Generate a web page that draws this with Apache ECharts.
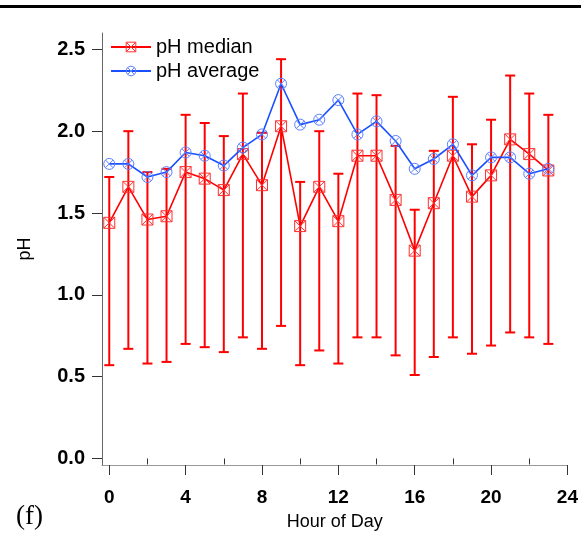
<!DOCTYPE html>
<html>
<head>
<meta charset="utf-8">
<script src="https://cdn.jsdelivr.net/npm/echarts@6/dist/echarts.min.js"></script>
<style>
    html, body { margin: 0; padding: 0; background: #fff; }
    #chart { width: 581px; height: 539px; }
</style>
</head>
<body>
<div id="chart"></div>
<script>
// 数据
const hours = [0, 1, 2, 3, 4, 5, 6, 7, 8, 9, 10, 11, 12, 13, 14, 15, 16, 17, 18, 19, 20, 21, 22, 23];
const phMedian = [1.44, 1.66, 1.46, 1.48, 1.75, 1.71, 1.64, 1.86, 1.67, 2.03, 1.42, 1.66,
    1.45, 1.85, 1.85, 1.58, 1.27, 1.56, 1.85, 1.60, 1.73, 1.95, 1.86, 1.76];
const phAverage = [1.80, 1.80, 1.72, 1.75, 1.87, 1.85, 1.79, 1.90, 1.98, 2.29, 2.04, 2.07,
    2.19, 1.98, 2.06, 1.94, 1.77, 1.83, 1.92, 1.73, 1.84, 1.84, 1.74, 1.77];
const errLow = [0.57, 0.67, 0.58, 0.59, 0.70, 0.68, 0.65, 0.74, 0.67, 0.81, 0.57, 0.66,
    0.58, 0.74, 0.74, 0.63, 0.51, 0.62, 0.74, 0.64, 0.69, 0.77, 0.74, 0.70];
const errHigh = [1.72, 2.00, 1.75, 1.77, 2.10, 2.05, 1.97, 2.23, 1.99, 2.44, 1.69, 2.00,
    1.74, 2.23, 2.22, 1.91, 1.52, 1.88, 2.21, 1.92, 2.07, 2.34, 2.23, 2.10];
const xTicks = [0, 4, 8, 12, 16, 20, 24];
const xMinorTicks = [2, 6, 10, 14, 18, 22];
const yTicks = [0, 0.5, 1.0, 1.5, 2.0, 2.5];

const squareX = 'path://M0,0 L10,0 L10,10 L0,10 Z M0,0 L10,10 M10,0 L0,10';
const circleX = 'path://M10,5 A5,5 0 1,1 0,5 A5,5 0 1,1 10,5 Z M1.5,1.5 L8.5,8.5 M8.5,1.5 L1.5,8.5';

const medianMarker = { color: 'rgba(255,255,255,0)', borderColor: '#ff3030', borderWidth: 1 };
const averageMarker = { color: 'rgba(255,255,255,0)', borderColor: '#5a80ff', borderWidth: 1 };

function initPhChart() {
    const chart = echarts.init(document.getElementById('chart'));
    const tickFont = { color: '#000', fontFamily: 'Liberation Sans', fontWeight: 'bold', fontSize: 19 };

    chart.setOption({
        animation: false,
        backgroundColor: '#fff',
        grid: { left: 102, right: 11, top: 33, bottom: 74 },
        graphic: [
            { type: 'rect', shape: { x: 0, y: 5, width: 581, height: 3 }, style: { fill: '#000' } },
            {
                type: 'text', left: 16, top: 503,
                style: { text: '(f)', font: '27px "Liberation Serif"', fill: '#000' }
            }
        ],
        legend: {
            orient: 'vertical',
            left: 110,
            top: 37,
            padding: 0,
            itemGap: 4,
            itemWidth: 40,
            itemHeight: 12,
            textStyle: { fontFamily: 'Liberation Sans', fontSize: 20, color: '#000' },
            data: [
                { name: 'pH median', itemStyle: medianMarker },
                { name: 'pH average', itemStyle: averageMarker }
            ]
        },
        xAxis: [
            {
                type: 'value',
                min: -0.38,
                max: 24,
                name: 'Hour of Day',
                nameLocation: 'middle',
                nameGap: 48,
                nameTextStyle: { fontFamily: 'Liberation Sans', fontSize: 18, color: '#000' },
                splitLine: { show: false },
                axisLine: { onZero: false, lineStyle: { color: '#999', width: 1 } },
                axisTick: { customValues: xTicks, length: 10, lineStyle: { color: '#333' } },
                axisLabel: Object.assign({ customValues: xTicks, margin: 23 }, tickFont)
            },
            {
                type: 'value',
                min: -0.38,
                max: 24,
                position: 'bottom',
                splitLine: { show: false },
                axisLine: { show: false },
                axisLabel: { show: false },
                axisTick: { customValues: xMinorTicks, length: 6, lineStyle: { color: '#333' } }
            }
        ],
        yAxis: {
            type: 'value',
            min: -0.04,
            max: 2.6,
            name: 'pH',
            nameLocation: 'middle',
            nameGap: 68,
            nameTextStyle: { fontFamily: 'Liberation Sans', fontSize: 18, color: '#000' },
            splitLine: { show: false },
            axisLine: { show: true, onZero: false, lineStyle: { color: '#666', width: 1 } },
            axisTick: { show: true, customValues: yTicks, length: 10, lineStyle: { color: '#333' } },
            axisLabel: Object.assign({
                customValues: yTicks,
                margin: 17,
                formatter: v => v.toFixed(1)
            }, tickFont, { fontSize: 20 })
        },
        series: [
            {
                name: 'error',
                type: 'custom',
                z: 2,
                renderItem: (params, api) => {
                    const x = api.value(0);
                    const lo = api.coord([x, api.value(1)]);
                    const hi = api.coord([x, api.value(2)]);
                    const style = { stroke: '#ff0000', lineWidth: 2 };
                    return {
                        type: 'group',
                        children: [
                            { type: 'line', shape: { x1: lo[0], y1: lo[1], x2: hi[0], y2: hi[1] }, style },
                            { type: 'line', shape: { x1: hi[0] - 5, y1: hi[1], x2: hi[0] + 5, y2: hi[1] }, style },
                            { type: 'line', shape: { x1: lo[0] - 5, y1: lo[1], x2: lo[0] + 5, y2: lo[1] }, style }
                        ]
                    };
                },
                data: hours.map((h, i) => [h, errLow[i], errHigh[i]])
            },
            {
                name: 'pH median',
                type: 'line',
                z: 3,
                symbol: squareX,
                symbolSize: 11,
                data: hours.map((h, i) => [h, phMedian[i]]),
                lineStyle: { color: '#ff0000', width: 1.6 },
                itemStyle: medianMarker
            },
            {
                name: 'pH average',
                type: 'line',
                z: 4,
                symbol: circleX,
                symbolSize: 11,
                data: hours.map((h, i) => [h, phAverage[i]]),
                lineStyle: { color: '#1a4fff', width: 1.6 },
                itemStyle: averageMarker
            }
        ]
    });
}

initPhChart();
</script>
</body>
</html>
